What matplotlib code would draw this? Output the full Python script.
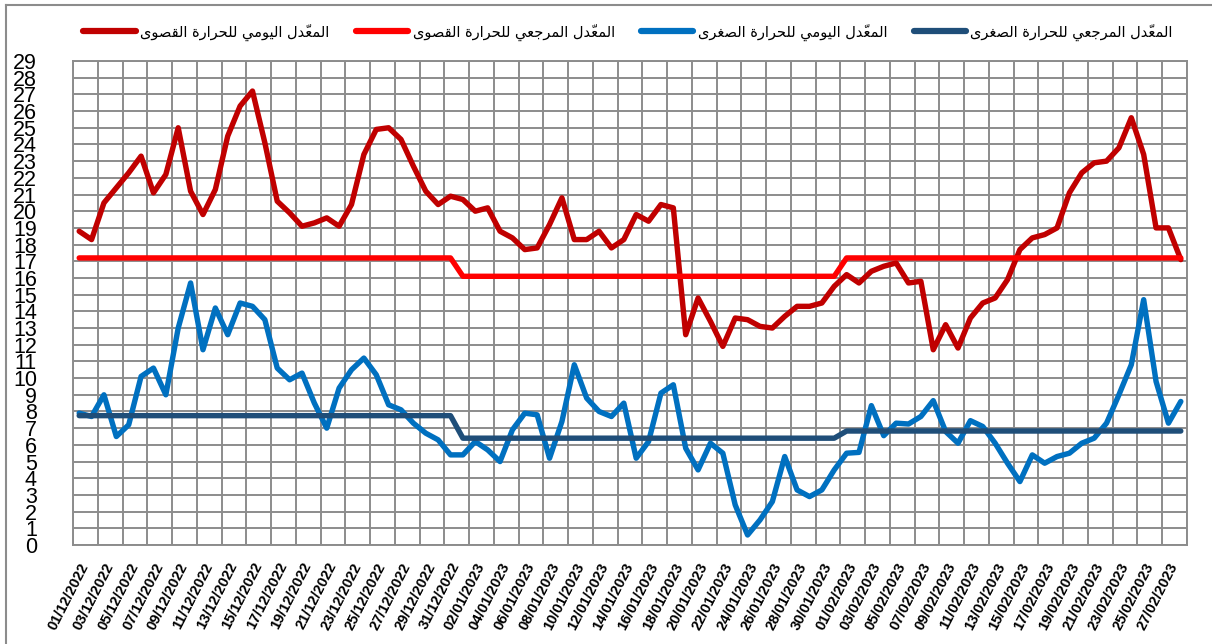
import numpy as np
import pandas as pd
import matplotlib
matplotlib.use("Agg")
import matplotlib.pyplot as plt
from matplotlib.lines import Line2D

# ---------------- data ----------------
dates = pd.date_range("2022-12-01", "2023-02-28", freq="D")
date_labels = [d.strftime("%d/%m/%Y") for d in dates]

tmax_daily = [18.8, 18.3, 20.5, 21.4, 22.3, 23.3, 21.1, 22.2, 25.0, 21.2,
              19.8, 21.3, 24.5, 26.3, 27.2, 24.1, 20.6, 19.9, 19.1, 19.3,
              19.6, 19.1, 20.4, 23.4, 24.9, 25.0, 24.3, 22.7, 21.2, 20.4,
              20.9, 20.7, 20.0, 20.2, 18.8, 18.4, 17.7, 17.8, 19.2, 20.8,
              18.3, 18.3, 18.8, 17.8, 18.3, 19.8, 19.4, 20.4, 20.2, 12.6,
              14.8, 13.4, 11.9, 13.6, 13.5, 13.1, 13.0, 13.7, 14.3, 14.3,
              14.5, 15.5, 16.2, 15.7, 16.4, 16.7, 16.9, 15.7, 15.8, 11.7,
              13.2, 11.8, 13.6, 14.5, 14.8, 15.9, 17.7, 18.4, 18.6, 19.0,
              21.1, 22.3, 22.9, 23.0, 23.8, 25.6, 23.4, 19.0, 19.0, 17.1]

tmin_daily = [7.9, 7.7, 9.0, 6.5, 7.2, 10.1, 10.6, 9.0, 13.0, 15.7,
              11.7, 14.2, 12.6, 14.5, 14.3, 13.5, 10.6, 9.9, 10.3, 8.5,
              7.0, 9.4, 10.5, 11.2, 10.2, 8.4, 8.1, 7.3, 6.7, 6.3,
              5.4, 5.4, 6.2, 5.7, 5.0, 6.9, 7.9, 7.8, 5.2, 7.4,
              10.8, 8.8, 8.0, 7.7, 8.5, 5.2, 6.2, 9.1, 9.6, 5.8,
              4.5, 6.1, 5.5, 2.4, 0.6, 1.5, 2.6, 5.3, 3.3, 2.9,
              3.3, 4.5, 5.5, 5.55, 8.35, 6.55, 7.3, 7.25, 7.7, 8.65,
              6.8, 6.1, 7.45, 7.1, 6.1, 4.9, 3.8, 5.4, 4.9, 5.3,
              5.5, 6.1, 6.4, 7.3, 9.0, 10.8, 14.7, 9.8, 7.3, 8.6]

tmax_ref = [17.2] * 31 + [16.1] * 31 + [17.2] * 28
tmin_ref = [7.75] * 31 + [6.4] * 31 + [6.83] * 28

series_names = ["المعدّل اليومي للحرارة القصوى",
                "المعدّل المرجعي للحرارة القصوى",
                "المعدّل اليومي للحرارة الصغرى",
                "المعدّل المرجعي للحرارة الصغرى"]
series_colors = ["#C00000", "#FF0000", "#0070C0", "#1F4E79"]

y_ticks = list(range(0, 30))

# ---------------- minimal Arabic shaping ----------------
FORMS = {
    'ا': ('\uFE8D', '\uFE8E', None, None),
    'د': ('\uFEA9', '\uFEAA', None, None),
    'ر': ('\uFEAD', '\uFEAE', None, None),
    'و': ('\uFEED', '\uFEEE', None, None),
    'ة': ('\uFE93', '\uFE94', None, None),
    'ل': ('\uFEDD', '\uFEDE', '\uFEDF', '\uFEE0'),
    'م': ('\uFEE1', '\uFEE2', '\uFEE3', '\uFEE4'),
    'ع': ('\uFEC9', '\uFECA', '\uFECB', '\uFECC'),
    'ي': ('\uFEF1', '\uFEF2', '\uFEF3', '\uFEF4'),
    'ح': ('\uFEA1', '\uFEA2', '\uFEA3', '\uFEA4'),
    'ق': ('\uFED5', '\uFED6', '\uFED7', '\uFED8'),
    'ص': ('\uFEB9', '\uFEBA', '\uFEBB', '\uFEBC'),
    'ج': ('\uFE9D', '\uFE9E', '\uFE9F', '\uFEA0'),
    'غ': ('\uFECD', '\uFECE', '\uFECF', '\uFED0'),
    'ى': ('\uFEEF', '\uFEF0', '\uFBE8', '\uFBE9'),
}


def is_mark(c):
    return '\u064B' <= c <= '\u0652'


def shape_arabic(text):
    clusters = []
    for c in text:
        if is_mark(c) and clusters:
            clusters[-1][1].append(c)
        else:
            clusters.append([c, []])
    bases = [cl[0] for cl in clusters]
    out = []
    for k, (b, marks) in enumerate(clusters):
        if b in FORMS:
            prev_b = bases[k - 1] if k > 0 else ' '
            next_b = bases[k + 1] if k + 1 < len(bases) else ' '
            jp = prev_b in FORMS and FORMS[prev_b][2] is not None
            jn = next_b in FORMS and FORMS[b][2] is not None
            iso, fin, ini, med = FORMS[b]
            if jp and jn:
                g = med
            elif jp:
                g = fin
            elif jn:
                g = ini
            else:
                g = iso
        else:
            g = b
        out.append(g + ''.join(marks))
    return ''.join(reversed(out))


# ---------------- figure ----------------
W, H = 1212, 644
fig = plt.figure(figsize=(W / 100, H / 100), dpi=100)
ax = fig.add_axes([73 / W, 1 - 545 / H, (1187 - 73) / W, (545 - 61) / H])

x = np.arange(len(dates))
all_series = [tmax_daily, tmax_ref, tmin_daily, tmin_ref]
for vals, col, name in zip(all_series, series_colors, series_names):
    ax.plot(x, vals, color=col, lw=3.9, solid_joinstyle='round',
            solid_capstyle='round', label=name, zorder=3)

ax.set_xlim(-0.5, len(dates) - 0.5)
ax.set_ylim(0, 29)

grid_col = "#8C8C8C"
ax.set_yticks(y_ticks)
ax.set_yticklabels([str(v) for v in y_ticks], fontsize=15.5,
                   family=['Liberation Sans'])
ax.set_xticks(x[::2])
ax.set_xticklabels(date_labels[::2], rotation=63, ha='right',
                   rotation_mode='anchor', fontsize=10.5, fontweight='bold',
                   family=['Liberation Sans'])
ax.tick_params(axis='both', length=0)
ax.tick_params(axis='y', pad=26)
ax.tick_params(axis='x', pad=11)

ax.set_xticks(np.arange(-0.5, len(dates), 2), minor=True)
ax.grid(False)
ax.grid(True, which='minor', axis='x', color=grid_col, lw=1.4, zorder=1)
ax.grid(True, which='major', axis='y', color=grid_col, lw=1.4, zorder=1)
ax.tick_params(which='minor', length=0)
for s in ax.spines.values():
    s.set_color(grid_col)
    s.set_linewidth(1.4)
ax.set_axisbelow(True)

# legend
handles = [Line2D([], [], color=c, lw=4.5, solid_capstyle='round')
           for c in series_colors]
labels = [shape_arabic(n) for n in series_names]
fig.legend(handles, labels, loc='center', bbox_to_anchor=(628 / W, 1 - 32 / H),
           ncol=4, frameon=False, handlelength=3.6, handletextpad=0.3,
           columnspacing=1.8, prop={'family': ['DejaVu Sans'], 'size': 10.5})

# outer frame (left and top visible)
fig.add_artist(Line2D([6 / W, 6 / W], [0, 1 - 5 / H], transform=fig.transFigure,
                      color="#8C8C8C", lw=1.5))
fig.add_artist(Line2D([6 / W, 1], [1 - 5 / H, 1 - 5 / H], transform=fig.transFigure,
                      color="#8C8C8C", lw=1.5))

fig.savefig("out.png", dpi=100)
